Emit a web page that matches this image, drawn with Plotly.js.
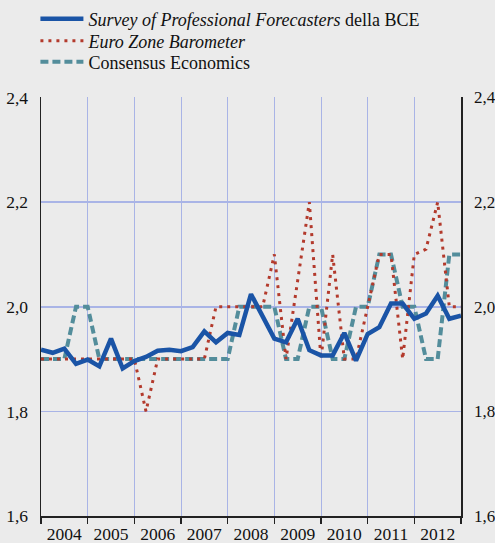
<!DOCTYPE html>
<html>
<head>
<meta charset="utf-8">
<script src="https://cdn.plot.ly/plotly-3.0.1.min.js"></script>
<style>
  html, body { margin: 0; padding: 0; background: #ebebeb; }
  #chart { width: 495px; height: 543px; }
</style>
</head>
<body>
<div id="chart"></div>
<script>
// Quarterly observations, 2004 to end of 2012 (37 points)
const quarterPositions = [
  2004.00, 2004.25, 2004.50, 2004.75,
  2005.00, 2005.25, 2005.50, 2005.75,
  2006.00, 2006.25, 2006.50, 2006.75,
  2007.00, 2007.25, 2007.50, 2007.75,
  2008.00, 2008.25, 2008.50, 2008.75,
  2009.00, 2009.25, 2009.50, 2009.75,
  2010.00, 2010.25, 2010.50, 2010.75,
  2011.00, 2011.25, 2011.50, 2011.75,
  2012.00, 2012.25, 2012.50, 2012.75,
  2013.00
];

const spfBCE = [
  1.918, 1.912, 1.920, 1.891, 1.899, 1.886, 1.939, 1.882,
  1.896, 1.904, 1.916, 1.918, 1.915, 1.923, 1.953, 1.932,
  1.950, 1.946, 2.024, 1.980, 1.939, 1.932, 1.977, 1.917,
  1.907, 1.907, 1.950, 1.897, 1.948, 1.961, 2.006, 2.006,
  1.977, 1.987, 2.021, 1.977, 1.983
];

const euroZoneBarometer = [
  1.9, 1.9, 1.9, 1.9, 1.9, 1.9, 1.9, 1.9,
  1.9, 1.8, 1.9, 1.9, 1.9, 1.9, 1.9, 2.0,
  2.0, 2.0, 2.0, 2.0, 2.1, 1.9, 2.05, 2.2,
  1.9, 2.1, 1.9, 1.9, 2.0, 2.1, 2.1, 1.9,
  2.1, 2.11, 2.2, 2.0, 2.0
];

const consensusEconomics = [
  1.9, 1.9, 1.9, 2.0, 2.0, 1.9, 1.9, 1.9,
  1.9, 1.9, 1.9, 1.9, 1.9, 1.9, 1.9, 1.9,
  1.9, 2.0, 2.0, 2.0, 2.0, 1.9, 1.9, 2.0,
  2.0, 1.9, 1.9, 2.0, 2.0, 2.1, 2.1, 2.0,
  2.0, 1.9, 1.9, 2.1, 2.1
];

const yearLabels = ['2004','2005','2006','2007','2008','2009','2010','2011','2012'];
const yearLabelPositions = [2004.5, 2005.5, 2006.5, 2007.5, 2008.5, 2009.5, 2010.5, 2011.5, 2012.5];

const seriesNames = [
  '<i>Survey of Professional Forecasters</i> della BCE',
  '<i>Euro Zone Barometer</i>',
  'Consensus Economics'
];

const serif = '"Liberation Serif", "Times New Roman", Times, serif';

const traces = [
  {x: quarterPositions, y: consensusEconomics, name: seriesNames[2], mode: 'lines',
   line: {color: '#538d9b', width: 4, dash: '8px,4px'}, legend: 'legend3', hoverinfo: 'skip'},
  {x: quarterPositions, y: euroZoneBarometer, name: seriesNames[1], mode: 'lines',
   line: {color: '#b33a2c', width: 3, dash: '3px,5px'}, legend: 'legend2', hoverinfo: 'skip'},
  {x: quarterPositions, y: spfBCE, name: seriesNames[0], mode: 'lines',
   line: {color: '#1a54a6', width: 4.5}, legend: 'legend', hoverinfo: 'skip'},
  {x: quarterPositions, y: spfBCE, yaxis: 'y2', showlegend: false, mode: 'lines',
   line: {width: 0}, opacity: 0, hoverinfo: 'skip'}
];

function legendAt(rowY) {
  return {
    x: -0.0133, xanchor: 'left',
    y: 1 + (97 - rowY) / 419, yanchor: 'middle',
    bgcolor: 'rgba(0,0,0,0)',
    font: {family: serif, size: 18, color: '#111'},
    itemwidth: 43
  };
}

const layout = {
  width: 495, height: 543,
  margin: {l: 41, r: 34, t: 97, b: 27, pad: 0, autoexpand: false},
  paper_bgcolor: '#ebebeb', plot_bgcolor: '#ebebeb',
  separators: ',.',
  font: {family: serif, size: 17.5, color: '#111'},
  showlegend: true,
  legend: legendAt(19), legend2: legendAt(41), legend3: legendAt(62),
  xaxis: {
    range: [2004, 2013], tickmode: 'array', tickvals: yearLabelPositions, ticktext: yearLabels,
    ticks: '', showgrid: false, zeroline: false,
    showline: true, linecolor: '#222', linewidth: 1.5, ticklabelstandoff: 1,
    tickfont: {family: serif, size: 17.5, color: '#111'},
    minor: {tick0: 2004, dtick: 1, showgrid: true, gridcolor: '#a9b4e6', gridwidth: 1,
            ticks: 'outside', ticklen: 6, tickcolor: '#222', tickwidth: 1.5},
    automargin: false, fixedrange: true
  },
  yaxis: {
    range: [1.6, 2.401], tickmode: 'linear', tick0: 1.6, dtick: 0.2, tickformat: '.1f',
    showgrid: true, gridcolor: '#a9b4e6', gridwidth: 1.5, zeroline: false,
    showline: true, linecolor: '#222', linewidth: 1.5, ticks: '', ticklabelstandoff: 8,
    tickfont: {family: serif, size: 17.5, color: '#111'}, automargin: false, fixedrange: true
  },
  yaxis2: {
    range: [1.6, 2.401], overlaying: 'y', side: 'right',
    tickmode: 'linear', tick0: 1.6, dtick: 0.2, tickformat: '.1f',
    showgrid: false, zeroline: false,
    showline: true, linecolor: '#222', linewidth: 1.5, ticks: '', ticklabelstandoff: 8,
    tickfont: {family: serif, size: 17, color: '#111'}, automargin: false, fixedrange: true
  }
};

Plotly.newPlot('chart', traces, layout, {displayModeBar: false, staticPlot: true});
</script>
</body>
</html>
